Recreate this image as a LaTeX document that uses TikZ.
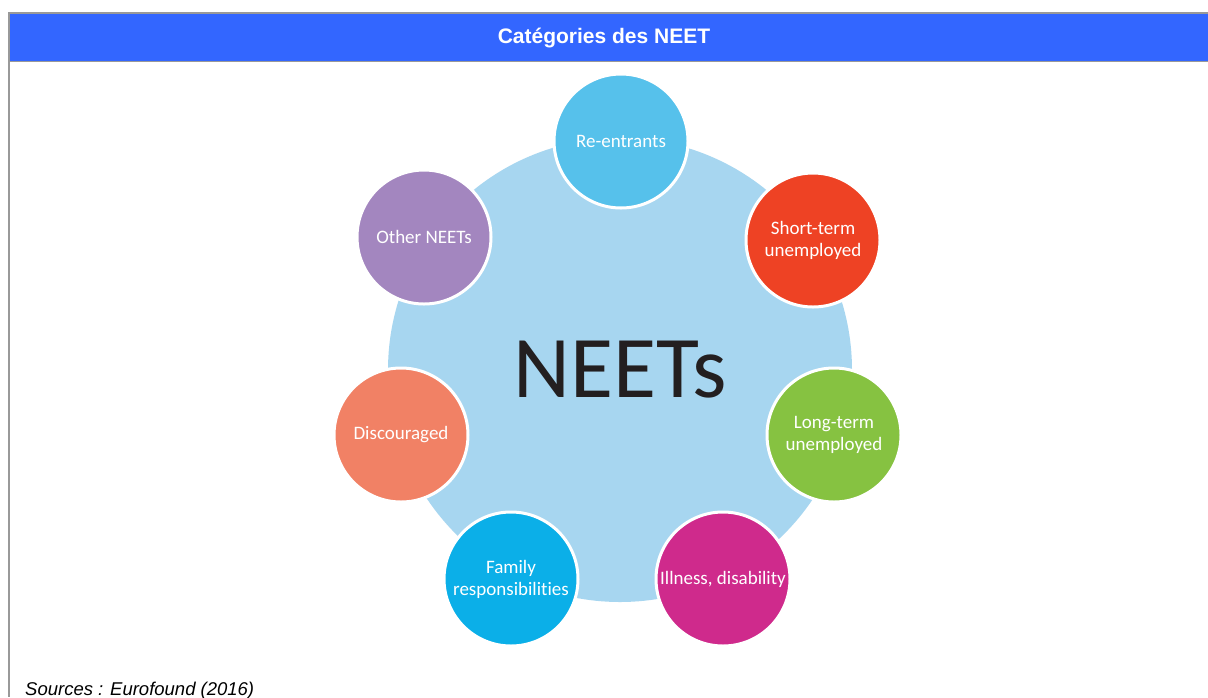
\documentclass[tikz,border=0pt]{standalone}
\usepackage{fontspec}
\setmainfont{Liberation Sans}
\newfontfamily\catfont[Ligatures=NoCommon]{Carlito}
\usetikzlibrary{positioning}
\usepackage{xcolor}

\definecolor{headblue}{HTML}{3366FF}
\definecolor{framegrey}{HTML}{999999}
\definecolor{hubblue}{HTML}{A7D6F0}
\definecolor{neetsink}{HTML}{231F20}
\definecolor{reblue}{HTML}{56C1EB}
\definecolor{shortred}{HTML}{EE4224}
\definecolor{longgreen}{HTML}{86C241}
\definecolor{illpink}{HTML}{CF2A8C}
\definecolor{famblue}{HTML}{0BAFE8}
\definecolor{discorange}{HTML}{F18165}
\definecolor{otherlilac}{HTML}{A386BF}

\begin{document}
\begin{tikzpicture}[x=1pt, y=-1pt,
    every node/.style={inner sep=0pt},
    cat/.style={circle, minimum size=134pt, draw=white, line width=3pt,
      text=white, align=center, font=\catfont\fontsize{19}{22}\selectfont}]

  \useasboundingbox (0,0) rectangle (1208,697);
  \fill[white] (0,0) rectangle (1208,697);

  % frame and title bar
  \fill[headblue] (9,13) rectangle (1208,61.5);
  \draw[framegrey, line width=2pt] (1208,13) -- (9,13) -- (9,697);
  \draw[framegrey, line width=1.5pt] (9,61.5) -- (1208,61.5);
  \node[text=white, font=\bfseries\fontsize{21}{25}\selectfont]
    (title) at (604,38) {Catégories des NEET};

  % hub
  \node[circle, fill=hubblue, minimum size=464pt, text=neetsink,
    font=\catfont\fontsize{88}{88}\selectfont]
    (hub) at (620,370) {NEETs};

  % 7 categories round the hub
  \node[cat, fill=reblue]     (re)    at (621,141) {Re-entrants};
  \node[cat, fill=shortred]   (short) at (813,240) {Short-term\\unemployed};
  \node[cat, fill=longgreen]  (long)  at (834,435) {Long-term\\unemployed};
  \node[cat, fill=illpink]    (ill)   at (723,579) {Illness, disability};
  \node[cat, fill=famblue]    (fam)   at (511,579) {Family\\responsibilities};
  \node[cat, fill=discorange] (disc)  at (401,435) {Discouraged};
  \node[cat, fill=otherlilac] (other) at (424,237) {Other NEETs};

  \node[anchor=base west, font=\itshape\fontsize{18.5}{22}\selectfont]
    (src) at (25,695) {Sources : Eurofound (2016)};

\end{tikzpicture}
\end{document}
